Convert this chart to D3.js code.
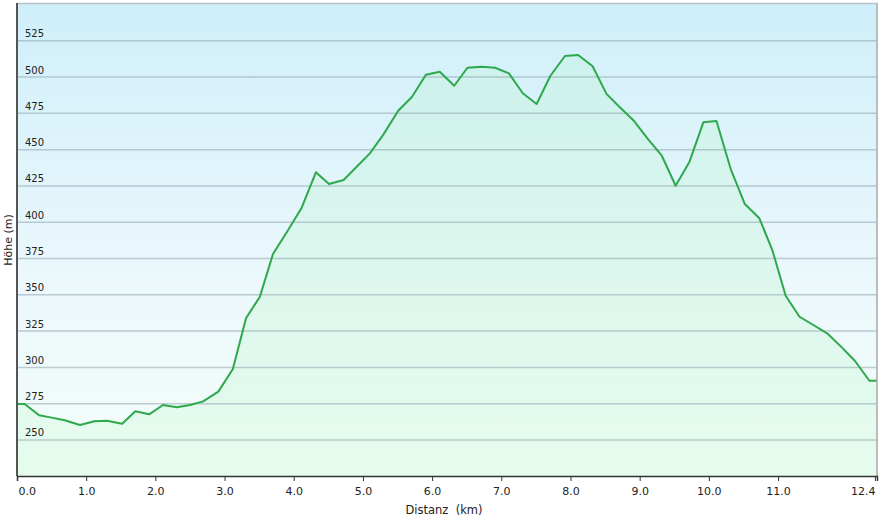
<!DOCTYPE html>
<html>
<head>
<meta charset="utf-8">
<script src="https://cdn.jsdelivr.net/npm/d3@7"></script>
<style>
  body { margin: 0; background: #fff; }
  text { font-family: Verdana, "DejaVu Sans", sans-serif; fill: #222; }
</style>
</head>
<body>
<svg id="chart"></svg>
<script>
var w = 882;
var h = 518;

// profile: distance (km) and elevation (m)
var distKm = [0, 0.11, 0.32, 0.5, 0.69, 0.91, 1.12, 1.3, 1.52, 1.71, 1.91, 2.11, 2.31, 2.5, 2.69, 2.91,
  3.12, 3.31, 3.51, 3.7, 3.91, 4.11, 4.32, 4.51, 4.72, 4.91, 5.1, 5.29, 5.51, 5.71, 5.91,
  6.11, 6.32, 6.51, 6.72, 6.91, 7.11, 7.31, 7.51, 7.71, 7.92, 8.11, 8.32, 8.52, 8.72, 8.92,
  9.12, 9.32, 9.52, 9.72, 9.92, 10.11, 10.32, 10.52, 10.73, 10.92, 11.11, 11.31, 11.51, 11.71,
  11.91, 12.11, 12.32, 12.43];
var elevM = [274.8, 274.8, 267, 265.4, 263.6, 260.3, 262.9, 263.3, 261.2, 269.8, 267.7, 274.1, 272.5, 274.1, 276.6, 283.3,
  298.9, 333.8, 348.7, 378.1, 394, 409.6, 434.4, 426.3, 429.1, 438.2, 447.4, 460, 476.8, 486.4, 501.6,
  503.6, 494, 506.4, 507.1, 506.4, 502.5, 488.8, 481.4, 500.9, 514.5, 515.2, 507.4, 488.4, 478.9, 469.7,
  457.3, 445.8, 425.1, 441.7, 468.8, 469.7, 436, 412.5, 402.7, 380.4, 349.4, 334.9, 329.2, 323.5,
  314.3, 304.6, 290.8, 290.8];

var yTicks = [250, 275, 300, 325, 350, 375, 400, 425, 450, 475, 500, 525];
var xTicks = [0, 1, 2, 3, 4, 5, 6, 7, 8, 9, 10, 11, 12.4];

var pLeft = 17, pRight = 877, pTop = 3, pBottom = 476;

var svg = d3.select("#chart")
  .attr("width", w)
  .attr("height", h)

var x = d3.scaleLinear().domain([0, 12.43]).range([pLeft, pRight]);
var y = d3.scaleLinear().domain([225.2, 551]).range([pBottom, pTop]);

var defs = svg.append("defs");

var bg = defs.append("linearGradient").attr("id", "bg")
  .attr("x1", 0).attr("y1", 0).attr("x2", 0).attr("y2", 1);
bg.append("stop").attr("offset", "0%").attr("stop-color", "#cfeffa");
bg.append("stop").attr("offset", "60%").attr("stop-color", "#ecf8fc");
bg.append("stop").attr("offset", "100%").attr("stop-color", "#f4fdf8");

var fg = defs.append("linearGradient").attr("id", "fillg")
  .attr("x1", 0).attr("y1", 0).attr("x2", 0).attr("y2", 1);
fg.append("stop").attr("offset", "0%").attr("stop-color", "#c4f2dc").attr("stop-opacity", 0.45);
fg.append("stop").attr("offset", "100%").attr("stop-color", "#dcfbe6").attr("stop-opacity", 0.6);

// plot background
svg.append("rect")
  .attr("x", pLeft).attr("y", pTop)
  .attr("width", pRight - pLeft).attr("height", pBottom - pTop)
  .attr("fill", "url(#bg)")

var pts = distKm.map(function(d, i) { return [d, elevM[i]]; });

var area = d3.area()
  .x(function(d) { return x(d[0]); })
  .y0(pBottom)
  .y1(function(d) { return y(d[1]); });

var line = d3.line()
  .x(function(d) { return x(d[0]); })
  .y(function(d) { return y(d[1]); });

svg.append("path")
  .datum(pts)
  .attr("d", area)
  .attr("fill", "url(#fillg)")

// grid lines
svg.selectAll(".grid")
  .data(yTicks)
  .enter()
  .append("line")
  .attr("class", "grid")
  .attr("x1", pLeft).attr("x2", pRight)
  .attr("y1", function(d) { return y(d); })
  .attr("y2", function(d) { return y(d); })
  .attr("stroke", "#8fa6ae")
  .attr("stroke-opacity", 0.55)
  .attr("stroke-width", 1.5)

svg.selectAll(".ylab")
  .data(yTicks)
  .enter()
  .append("text")
  .attr("class", "ylab")
  .attr("x", 25)
  .attr("y", function(d) { return y(d) - 3.5; })
  .attr("font-size", "10px")
  .text(function(d) { return d; })

svg.append("path")
  .datum(pts)
  .attr("d", line)
  .attr("fill", "none")
  .attr("stroke", "#2ea84c")
  .attr("stroke-width", 2)
  .attr("stroke-linejoin", "round")

// frame
svg.append("line")
  .attr("x1", pLeft).attr("x2", pRight).attr("y1", pTop + 0.5).attr("y2", pTop + 0.5)
  .attr("stroke", "#b4c4ca").attr("stroke-width", 1.5)
svg.append("line")
  .attr("x1", pRight).attr("x2", pRight).attr("y1", pTop).attr("y2", pBottom)
  .attr("stroke", "#a8a8a8").attr("stroke-width", 1.5)
svg.append("line")
  .attr("x1", pLeft).attr("x2", pLeft).attr("y1", pTop).attr("y2", pBottom)
  .attr("stroke", "#555").attr("stroke-width", 2)

// x axis
var xAxis = d3.axisBottom(x)
  .tickValues(xTicks)
  .tickSize(5)
  .tickFormat(d3.format(".1f"));

var gx = svg.append("g")
  .attr("transform", "translate(0," + pBottom + ")")
  .call(xAxis);
gx.select(".domain").attr("stroke", "#333").attr("stroke-width", 1.5);
gx.selectAll(".tick line").attr("stroke", "#333");
gx.selectAll(".tick text")
  .attr("font-size", "11px")
  .attr("fill", "#222")
  .attr("dy", "1.0em")
  .attr("text-anchor", function(d, i) {
    if (i == 0) return "start";
    if (i == xTicks.length - 1) return "end";
    return "middle";
  })
  .attr("dx", function(d, i) { return i == 0 ? 1 : 0; });

svg.append("text")
  .attr("x", 444)
  .attr("y", 514)
  .attr("text-anchor", "middle")
  .attr("font-size", "11.5px")
  .attr("xml:space", "preserve")
  .text("Distanz  (km)")

svg.append("text")
  .attr("transform", "translate(12,240) rotate(-90)")
  .attr("text-anchor", "middle")
  .attr("font-size", "11px")
  .text("Höhe (m)")
</script>
</body>
</html>
